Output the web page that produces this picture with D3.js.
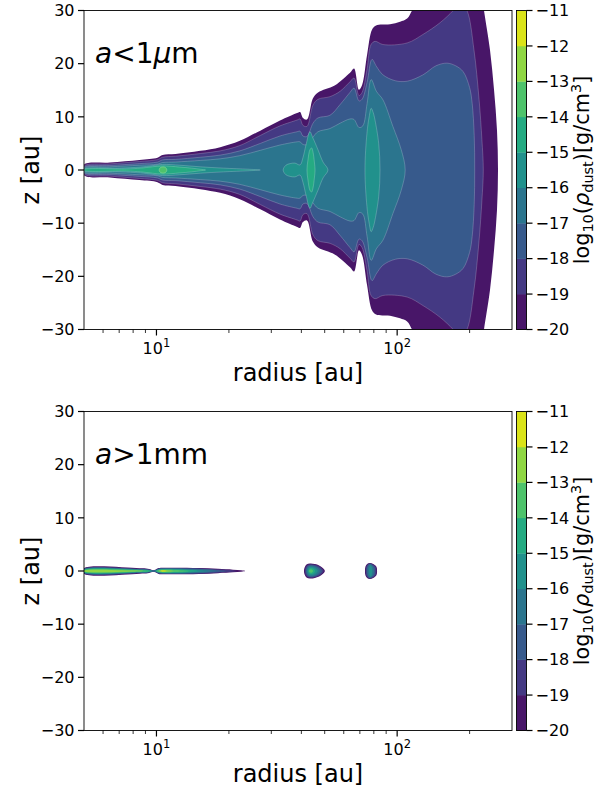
<!DOCTYPE html>
<html><head><meta charset="utf-8">
<script src="https://cdn.jsdelivr.net/npm/d3@7"></script>
<style>
body{margin:0;background:#fff}
svg{display:block}
text{font-family:"DejaVu Sans",sans-serif;fill:#000}
</style>
</head><body>
<svg id="c" width="597" height="787"></svg>
<script>
// ---------- data ----------
const levels = [-20,-19,-18,-17,-16,-15,-14,-13,-12,-11];
const yTicks = [-30,-20,-10,0,10,20,30];
const xMajor = [10,100];
const xMajorLabels = ["1","2"];
const xMinor = [6,7,8,9,20,30,40,50,60,70,80,90,200];
const xDomain = [5,300];
const zDomain = [-30,30];
const titleTop = ["a","<1","\u03bc","m"];
const titleBot = ["a",">1mm"];

// upper-half contour outlines [radius au, z au]; mirrored about z = 0
const topL20 = [[[5,1.0],[6.4,1.4],[8.5,1.9],[10.1,2.3],[10.6,2.8],[12,3.0],[15.2,3.6],[18.4,4.3],[22.2,5.5],[27,7.4],[32.6,9.3],[38.4,10.7],[39.5,10.9],[40.6,9.8],[42.2,9.5],[44.7,13.5],[46.9,14.6],[55,15.9],[63.7,18.3],[66.2,19.1],[69.4,15.1],[71.5,16.0],[75,21.7],[78.6,26.4],[81.7,27.2],[93.4,27.4],[102.8,27.9],[110,28.5],[115.3,30],[124,33],[225,33],[229.5,30],[243,22.6],[252.6,15.1],[259.9,7.5],[262.4,0]]];
const topL19 = [[[5,0.75],[6.4,1.15],[8.5,1.6],[10.1,1.95],[10.6,2.4],[12,2.6],[15.2,3.1],[18.4,3.6],[22.2,4.6],[27,6.5],[32.6,8.3],[38.4,9.4],[39.5,9.6],[40.6,8.4],[42.2,8.2],[44.7,12.2],[46.9,13.3],[52.6,13.8],[57.9,14.8],[63.7,16.6],[66.2,17.3],[69.4,14.0],[71.5,14.6],[75,19.0],[77.9,23.6],[81,24.2],[87.3,23.6],[110,23.9],[128,25.5],[150.7,27.7],[171,30],[183,31.5],[195,30],[208.5,22.6],[219,13.2],[225,5.7],[228,0]]];
const topL18 = [[[5,0.55],[6.4,0.85],[8.5,1.2],[10.1,1.5],[10.6,1.9],[12,2.0],[15.2,2.4],[18.4,2.8],[22.2,3.6],[27,5.0],[32.6,6.4],[38.4,7.2],[39.5,7.3],[40.6,6.4],[42.2,6.3],[44.7,8.8],[46.9,9.8],[52.6,10.3],[57.9,12.3],[63.7,14.6],[66.2,15.4],[69.4,13.0],[71.5,13.3],[75,16.5],[78.6,20.8],[82,19.5],[87.3,17.9],[98,16.8],[110,16.7],[128,17.9],[145,19.6],[161,20.1],[175,19.6],[188,18.5],[200,15.5],[205,12.5],[209,6.5],[210,0]]];
const topL17 = [[[5,0.4],[6.4,0.6],[8.5,0.9],[10.1,1.1],[10.6,1.4],[12,1.5],[15.2,1.8],[18.4,2.1],[22.2,2.7],[27,3.7],[32.6,4.7],[38.4,5.3],[39.5,5.3],[40.6,4.8],[42.2,4.8],[44.7,6.2],[46.9,7.2],[52.6,7.8],[57.9,8.8],[63.7,9.6],[66.2,9.5],[69.4,8.0],[72,8.3],[75,12.5],[78,17.0],[82,14.8],[87.3,13.2],[96,8.2],[104,3.8],[108,0]]];
const topL16 = [
  [[5,0.2],[7,0.35],[8.6,0.55],[9.6,0.8],[10.6,1.05],[12.5,0.9],[15.2,0.6],[19,0.35],[24,0.15],[27,0]],
  [[33.6,0],[34.5,0.9],[35.9,1.2],[37.6,1.3],[39.5,0.95],[40.6,2.3],[41.8,4.7],[43.4,7.2],[44.7,6.0],[46.9,3.8],[49.2,1.5],[51.6,0]],
  [[73.5,0],[74.9,6.9],[76.5,10],[78,11.6],[79.5,10.8],[80.9,9.4],[83.8,5.0],[84.9,0]]
];
const topL15 = [
  [[5,0.1],[7.5,0.2],[8.6,0.35],[9.6,0.6],[10.6,0.78],[12.5,0.55],[14,0.35],[15.2,0.15],[16,0]],
  [[42.2,0],[42.6,1.9],[43.4,3.8],[44.1,4.15],[44.7,3.4],[45.3,1.5],[45.6,0]]
];
const topL14 = [[[10.25,0],[10.35,0.4],[10.65,0.6],[10.95,0.4],[11.05,0]]];

const botL20 = [
  [[5,0.5],[8.5,0.5],[9.2,0.42],[9.6,0.2],[9.7,0.15],[9.9,0.25],[10.2,0.55],[10.7,0.62],[12,0.62],[15,0.55],[18,0.4],[20.8,0.25],[22.5,0.12],[23.4,0]],
  [[41.0,0],[41.3,0.7],[42.0,1.2],[43.4,1.4],[45.5,1.3],[48,0.9],[50.1,0]],
  [[73.5,0],[73.8,0.8],[75,1.3],[77,1.5],[79.5,1.3],[82,0.8],[82.5,0]]
];
const botL19 = [
  [[5,0.42],[8.5,0.42],[9.2,0.35],[9.6,0.15],[9.7,0.1],[9.9,0.2],[10.2,0.48],[10.7,0.55],[12,0.55],[15,0.48],[18,0.32],[20,0.2],[21.5,0]],
  [[41.3,0],[41.6,0.65],[42.3,1.1],[43.5,1.28],[45.5,1.18],[47.8,0.8],[49.5,0]],
  [[74,0],[74.3,0.75],[75.3,1.22],[77,1.42],[79.3,1.22],[81.5,0.75],[81.9,0]]
];
const botL18 = [
  [[5,0.36],[8.5,0.36],[9.2,0.3],[9.6,0.1],[9.7,0.06],[9.9,0.15],[10.2,0.42],[10.7,0.5],[12,0.5],[15,0.4],[17.5,0.25],[19.5,0]],
  [[41.7,0],[42,0.6],[42.6,1.0],[43.6,1.15],[45.5,1.05],[47.3,0.7],[48.7,0]],
  [[74.6,0],[74.9,0.7],[75.7,1.15],[77,1.35],[79,1.15],[80.7,0.7],[81.1,0]]
];
const botL17 = [
  [[5,0.3],[8.5,0.3],[9.2,0.24],[9.6,0.07],[9.9,0.1],[10.2,0.36],[10.7,0.44],[12,0.44],[14.5,0.32],[16.5,0.18],[17.8,0]],
  [[42.0,0],[42.3,0.55],[42.9,0.9],[43.7,1.0],[45.3,0.9],[46.7,0.6],[47.8,0]],
  [[75.3,0],[75.6,0.65],[76.2,1.05],[77.2,1.25],[78.5,1.05],[79.7,0.65],[80.1,0]]
];
const botL16 = [
  [[5,0.25],[8.5,0.25],[9.3,0.18],[9.6,0.04],[9.9,0.06],[10.2,0.3],[10.7,0.38],[12,0.36],[14,0.25],[15.5,0.1],[16.2,0]],
  [[42.4,0],[42.7,0.45],[43.2,0.75],[43.9,0.82],[45,0.72],[46,0.45],[46.8,0]],
  [[76.4,0],[76.6,0.6],[77.1,0.95],[77.6,1.05],[78.2,0.9],[78.6,0.55],[78.8,0]]
];
const botL15 = [
  [[5,0.2],[8.5,0.2],[9.2,0.12],[9.5,0]],
  [[9.95,0],[10.2,0.25],[10.7,0.32],[12,0.3],[13.5,0.18],[14.8,0]],
  [[42.7,0],[43,0.35],[43.5,0.55],[44.2,0.55],[45,0.4],[45.6,0]]
];
const botL14 = [
  [[5,0.15],[8.4,0.15],[9.1,0.06],[9.4,0]],
  [[10.0,0],[10.3,0.2],[10.8,0.25],[12,0.2],[13,0.1],[13.6,0]],
  [[43.0,0],[43.3,0.25],[43.8,0.35],[44.4,0.25],[44.7,0]]
];
const botL13 = [
  [[5,0.08],[8,0.08],[8.8,0]],
  [[10.2,0],[10.4,0.14],[10.8,0.16],[11.3,0.1],[11.8,0]]
];
const botL12 = [[[10.45,0],[10.6,0.09],[10.8,0.09],[11.0,0]]];

const topContours = [[-20,topL20],[-19,topL19],[-18,topL18],[-17,topL17],[-16,topL16],[-15,topL15],[-14,topL14]];
const botContours = [[-20,botL20],[-19,botL19],[-18,botL18],[-17,botL17],[-16,botL16],[-15,botL15],[-14,botL14],[-13,botL13],[-12,botL12]];

// ---------- drawing ----------
const svg = d3.select("#c");
const defs = svg.append("defs");
const X0 = 84, X1 = 512;
const CB0 = 516.5, CB1 = 526.5;
const vmin = levels[0], vmax = levels[levels.length-1];
const bandColor = L => d3.interpolateViridis((L + 0.5 - vmin)/(vmax - vmin));
const fmt = v => v < 0 ? "\u2212" + Math.abs(v) : String(v);

const panels = [
  {y0:10.5, y1:329.5, contours:topContours, title:titleTop, lines:true},
  {y0:411.5, y1:730.5, contours:botContours, title:titleBot, lines:false}
];

panels.forEach((p, idx) => {
  const x = d3.scaleLog().domain(xDomain).range([X0, X1]);
  const y = d3.scaleLinear().domain(zDomain).range([p.y1, p.y0]);
  defs.append("clipPath").attr("id","clip"+idx)
    .append("rect").attr("x",X0).attr("y",p.y0).attr("width",X1-X0).attr("height",p.y1-p.y0);
  const g = svg.append("g").attr("clip-path","url(#clip"+idx+")");
  const line = d3.line().x(d=>x(d[0])).y(d=>y(d[1])).curve(d3.curveCatmullRomClosed.alpha(0.5));
  p.contours.forEach(([L, polys]) => {
    polys.forEach(poly => {
      const lower = poly.filter(d=>d[1]!==0).slice().reverse().map(d=>[d[0],-d[1]]);
      const full = poly.concat(lower);
      g.append("path").attr("d", line(full))
        .attr("fill", bandColor(L))
        .attr("stroke", (p.lines && L > vmin) ? "rgba(255,255,255,0.35)" : "none")
        .attr("stroke-width", 0.6);
    });
  });

  // frame
  svg.append("rect").attr("x",X0).attr("y",p.y0).attr("width",X1-X0).attr("height",p.y1-p.y0)
    .attr("fill","none").attr("stroke","#000").attr("stroke-width",0.9);

  // y ticks
  yTicks.forEach(v => {
    svg.append("line").attr("x1",X0-6).attr("x2",X0).attr("y1",y(v)).attr("y2",y(v))
      .attr("stroke","#000").attr("stroke-width",1.2);
    svg.append("text").attr("x",X0-9.5).attr("y",y(v)).attr("dy","0.36em")
      .attr("text-anchor","end").attr("font-size",16).text(fmt(v));
  });
  // x ticks
  xMinor.forEach(v => {
    svg.append("line").attr("x1",x(v)).attr("x2",x(v)).attr("y1",p.y1).attr("y2",p.y1+3.5)
      .attr("stroke","#000").attr("stroke-width",0.8);
  });
  xMajor.forEach((v,i) => {
    svg.append("line").attr("x1",x(v)).attr("x2",x(v)).attr("y1",p.y1).attr("y2",p.y1+6)
      .attr("stroke","#000").attr("stroke-width",1.2);
    const t = svg.append("text").attr("x",x(v)).attr("y",p.y1+24).attr("text-anchor","middle").attr("font-size",16);
    t.append("tspan").text("10");
    t.append("tspan").attr("font-size",11.5).attr("dy",-7).text(xMajorLabels[i]);
  });
  // axis labels
  svg.append("text").attr("x",(X0+X1)/2).attr("y",p.y1+51).attr("text-anchor","middle")
    .attr("font-size",24).text("radius [au]");
  svg.append("text").attr("transform",`translate(39,${(p.y0+p.y1)/2}) rotate(-90)`)
    .attr("text-anchor","middle").attr("font-size",24).text("z [au]");

  // panel title
  const tt = svg.append("text").attr("x",95).attr("y",p.y0+52.5).attr("font-size",28);
  p.title.forEach((s,i) => {
    const sp = tt.append("tspan").text(s);
    if (s === "a" || s === "\u03bc") sp.attr("font-style","italic");
  });

  // colorbar
  const cb = d3.scaleLinear().domain([vmin, vmax]).range([p.y1, p.y0]);
  levels.slice(0,-1).forEach(L => {
    svg.append("rect").attr("x",CB0).attr("width",CB1-CB0)
      .attr("y",cb(L+1)).attr("height",cb(L)-cb(L+1)+0.3)
      .attr("fill",bandColor(L));
  });
  svg.append("rect").attr("x",CB0).attr("y",p.y0).attr("width",CB1-CB0).attr("height",p.y1-p.y0)
    .attr("fill","none").attr("stroke","#000").attr("stroke-width",0.9);
  levels.forEach(L => {
    svg.append("line").attr("x1",CB1).attr("x2",CB1+6).attr("y1",cb(L)).attr("y2",cb(L))
      .attr("stroke","#000").attr("stroke-width",1.2);
    svg.append("text").attr("x",CB1+9).attr("y",cb(L)).attr("dy","0.36em")
      .attr("font-size",16).text(fmt(L));
  });
  const lab = svg.append("text").attr("transform",`translate(589,${(p.y0+p.y1)/2}) rotate(-90)`)
    .attr("text-anchor","middle").attr("font-size",20.8);
  lab.append("tspan").text("log");
  lab.append("tspan").attr("font-size",14.5).attr("dy",4).text("10");
  lab.append("tspan").attr("dy",-4).text("(");
  lab.append("tspan").attr("font-style","italic").text("\u03c1");
  lab.append("tspan").attr("font-size",14.5).attr("dy",4).text("dust");
  lab.append("tspan").attr("dy",-4).text(")[g/cm");
  lab.append("tspan").attr("font-size",14.5).attr("dy",-8).text("3");
  lab.append("tspan").attr("dy",8).text("]");
});
</script>
</body></html>
